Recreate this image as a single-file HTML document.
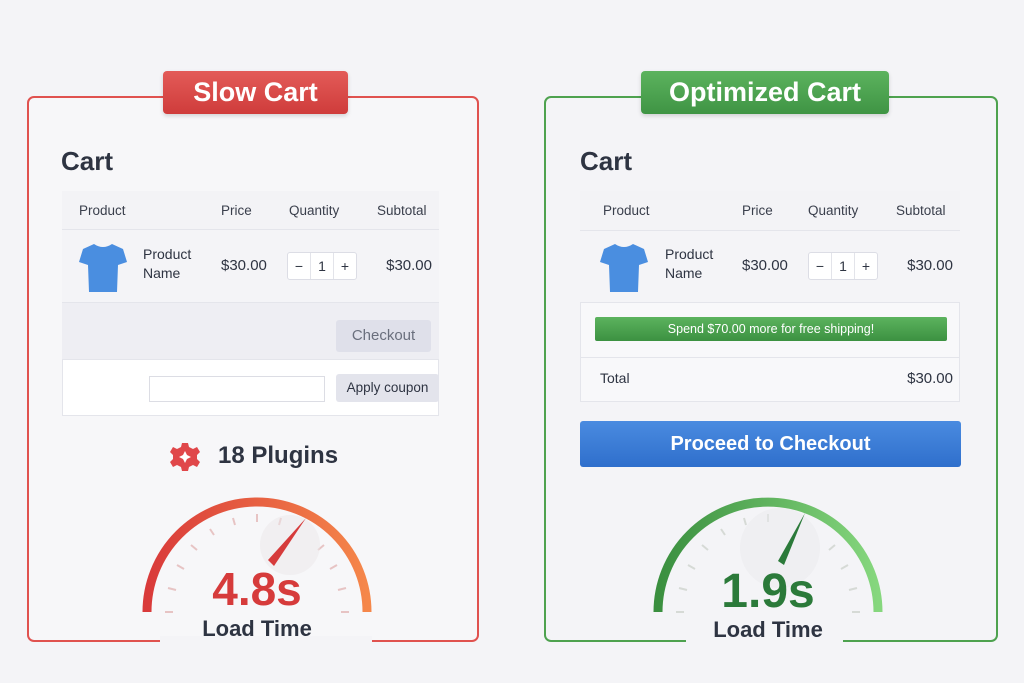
<!DOCTYPE html>
<html><head><meta charset="utf-8"><style>
*{margin:0;padding:0;box-sizing:border-box}
body{width:1024px;height:683px;background:#f4f4f7;font-family:"Liberation Sans","DejaVu Sans",sans-serif;position:relative;overflow:hidden;color:#2e3442}
.a{position:absolute}
.t{position:absolute;white-space:nowrap;line-height:1}
.h{font-size:13.5px;color:#3a3f4c}
.lbl{color:#fff;font-weight:bold;font-size:27px;text-align:center;line-height:43px;border-radius:4px;box-shadow:0 2px 4px rgba(0,0,0,.15)}
.qty{border:1px solid #dcdde5;background:#fff;border-radius:3px;display:flex;height:28px}
.qty span{flex:1;text-align:center;line-height:26px;font-size:14px;border-right:1px solid #e3e4ea}
.qty span:last-child{border:none}
</style></head><body>

<!-- LEFT PANEL -->
<div class="a" style="left:27px;top:96px;width:452px;height:546px;border:2px solid #e0524f;border-radius:7px;background:#f7f7f9"></div>
<div class="a" style="left:160px;top:636px;width:212px;height:8px;background:#f4f4f7"></div>
<div class="a lbl" style="left:163px;top:71px;width:185px;height:43px;background:linear-gradient(#e35b58,#cf3c3b)">Slow Cart</div>
<div class="t" style="left:61px;top:148px;font-size:26px;font-weight:bold">Cart</div>
<div class="a" style="left:62px;top:191px;width:377px;height:225px;border:1px solid #e4e5eb;background:#fff"></div>
<div class="a" style="left:62px;top:191px;width:377px;height:39px;background:#f3f3f6;border-bottom:1px solid #e4e5eb"></div>
<div class="a" style="left:62px;top:230px;width:377px;height:73px;background:#f4f4f7;border-bottom:1px solid #e4e5eb"></div>
<div class="a" style="left:62px;top:303px;width:377px;height:57px;background:#eeeef3;border-bottom:1px solid #e4e5eb"></div>
<div class="t h" style="left:79px;top:204px">Product</div>
<div class="t h" style="left:221px;top:204px">Price</div>
<div class="t h" style="left:289px;top:204px">Quantity</div>
<div class="t h" style="left:377px;top:204px">Subtotal</div>
<svg class="a" style="left:78px;top:240px" width="50" height="55" viewBox="0 0 50 55"><path d="M16 4 L5 9 L1 22 L10 25 L11 52 L39 52 L40 25 L49 22 L45 9 L34 4 Q25 10 16 4Z" fill="#4a8ee0"/></svg>
<div class="t" style="left:143px;top:245px;font-size:14px;line-height:19px">Product<br>Name</div>
<div class="t" style="left:221px;top:258px;font-size:15px">$30.00</div>
<div class="a qty" style="left:287px;top:252px;width:70px"><span>−</span><span>1</span><span>+</span></div>
<div class="t" style="right:592px;top:258px;font-size:15px">$30.00</div>
<div class="a" style="left:336px;top:320px;width:95px;height:32px;background:#dfe0ea;border-radius:3px;color:#6a6f7d;font-size:15px;text-align:center;line-height:32px">Checkout</div>
<div class="a" style="left:149px;top:376px;width:176px;height:26px;border:1px solid #dcdde4;background:#fff"></div>
<div class="a" style="left:336px;top:374px;width:103px;height:28px;background:#e3e4ec;border-radius:3px;font-size:13.5px;text-align:center;line-height:28px">Apply coupon</div>
<svg class="a" style="left:170px;top:442px" width="30" height="30" viewBox="0 0 30 30"><path d="M12 1h6l1 4 4 2 4-2 3 5-3 3v4l3 3-3 5-4-2-4 2-1 4h-6l-1-4-4-2-4 2-3-5 3-3v-4l-3-3 3-5 4 2 4-2z" fill="#e0474a"/><path d="M15 9l2 4 4 2-4 2-2 4-2-4-4-2 4-2z" fill="#fff"/></svg>
<div class="t" style="left:218px;top:444px;font-size:24px;font-weight:bold">18 Plugins</div>

<svg class="a" style="left:0;top:0" width="1024" height="683">
<defs>
<linearGradient id="rg" x1="0" x2="1"><stop offset="0" stop-color="#d93a3a"/><stop offset="1" stop-color="#f5874a"/></linearGradient>
<linearGradient id="gg" x1="0" x2="1"><stop offset="0" stop-color="#3a8f3f"/><stop offset="1" stop-color="#86d77e"/></linearGradient>
</defs>
<path d="M147 612 A110 110 0 0 1 367 612" fill="none" stroke="url(#rg)" stroke-width="9"/>
<g stroke="#e7c4c4" stroke-width="2">
<line x1="165" y1="612" x2="173" y2="612"/><line x1="168" y1="588" x2="176" y2="590"/><line x1="177" y1="565" x2="184" y2="569"/><line x1="191" y1="545" x2="197" y2="550"/><line x1="210" y1="529" x2="214" y2="535"/><line x1="233" y1="518" x2="235" y2="525"/><line x1="257" y1="514" x2="257" y2="522"/><line x1="281" y1="518" x2="279" y2="525"/><line x1="324" y1="545" x2="318" y2="550"/><line x1="337" y1="565" x2="330" y2="569"/><line x1="346" y1="588" x2="338" y2="590"/><line x1="349" y1="612" x2="341" y2="612"/>
</g>
<circle cx="290" cy="545" r="30" fill="#ece8ea" opacity=".5"/>
<polygon points="268,560 274,566 306,518" fill="#d63b3b"/>
<path d="M658 612 A110 110 0 0 1 878 612" fill="none" stroke="url(#gg)" stroke-width="9"/>
<g stroke="#d6dad6" stroke-width="2">
<line x1="676" y1="612" x2="684" y2="612"/><line x1="679" y1="588" x2="687" y2="590"/><line x1="688" y1="565" x2="695" y2="569"/><line x1="702" y1="545" x2="708" y2="550"/><line x1="721" y1="529" x2="725" y2="535"/><line x1="744" y1="518" x2="746" y2="525"/><line x1="768" y1="514" x2="768" y2="522"/><line x1="835" y1="545" x2="829" y2="550"/><line x1="848" y1="565" x2="841" y2="569"/><line x1="857" y1="588" x2="849" y2="590"/><line x1="860" y1="612" x2="852" y2="612"/>
</g>
<circle cx="780" cy="548" r="40" fill="#e9eaed" opacity=".5"/>
<polygon points="778,561 784,565 805,513" fill="#2b7a3a"/>
</svg>
<div class="t" style="left:157px;width:200px;text-align:center;top:566px;font-size:46px;font-weight:bold;color:#d63b3b">4.8s</div>
<div class="t" style="left:157px;width:200px;text-align:center;top:618px;font-size:22px;font-weight:bold">Load Time</div>

<!-- RIGHT PANEL -->
<div class="a" style="left:544px;top:96px;width:454px;height:546px;border:2px solid #4ea24f;border-radius:7px"></div>
<div class="a" style="left:686px;top:636px;width:157px;height:8px;background:#f4f4f7"></div>
<div class="a lbl" style="left:641px;top:71px;width:248px;height:43px;background:linear-gradient(#5cb35e,#3f9444)">Optimized Cart</div>
<div class="t" style="left:580px;top:148px;font-size:26px;font-weight:bold">Cart</div>
<div class="a" style="left:580px;top:191px;width:380px;height:211px;border:1px solid #e4e5eb;background:#f8f8fa"></div>
<div class="a" style="left:580px;top:191px;width:380px;height:40px;background:#f3f3f6;border-bottom:1px solid #e4e5eb"></div>
<div class="a" style="left:580px;top:231px;width:380px;height:72px;background:#f4f4f7;border-bottom:1px solid #e4e5eb"></div>
<div class="a" style="left:580px;top:357px;width:380px;height:1px;background:#e4e5eb"></div>
<div class="t h" style="left:603px;top:204px">Product</div>
<div class="t h" style="left:742px;top:204px">Price</div>
<div class="t h" style="left:808px;top:204px">Quantity</div>
<div class="t h" style="left:896px;top:204px">Subtotal</div>
<svg class="a" style="left:599px;top:240px" width="50" height="55" viewBox="0 0 50 55"><path d="M16 4 L5 9 L1 22 L10 25 L11 52 L39 52 L40 25 L49 22 L45 9 L34 4 Q25 10 16 4Z" fill="#4a8ee0"/></svg>
<div class="t" style="left:665px;top:245px;font-size:14px;line-height:19px">Product<br>Name</div>
<div class="t" style="left:742px;top:258px;font-size:15px">$30.00</div>
<div class="a qty" style="left:808px;top:252px;width:70px"><span>−</span><span>1</span><span>+</span></div>
<div class="t" style="right:71px;top:258px;font-size:15px">$30.00</div>
<div class="a" style="left:595px;top:317px;width:352px;height:24px;background:linear-gradient(#5cb35e,#3c9141);border-radius:2px;color:#fff;font-size:12.5px;text-align:center;line-height:24px">Spend $70.00 more for free shipping!</div>
<div class="t" style="left:600px;top:371px;font-size:14px">Total</div>
<div class="t" style="right:71px;top:371px;font-size:15px">$30.00</div>
<div class="a" style="left:580px;top:421px;width:381px;height:46px;background:linear-gradient(#4a8be0,#2f6fcc);border-radius:3px;color:#fff;font-size:20px;font-weight:bold;text-align:center;line-height:46px">Proceed to Checkout</div>
<div class="t" style="left:668px;width:200px;text-align:center;top:568px;font-size:48px;font-weight:bold;color:#2b7a3a">1.9s</div>
<div class="t" style="left:668px;width:200px;text-align:center;top:619px;font-size:22px;font-weight:bold">Load Time</div>
</body></html>
